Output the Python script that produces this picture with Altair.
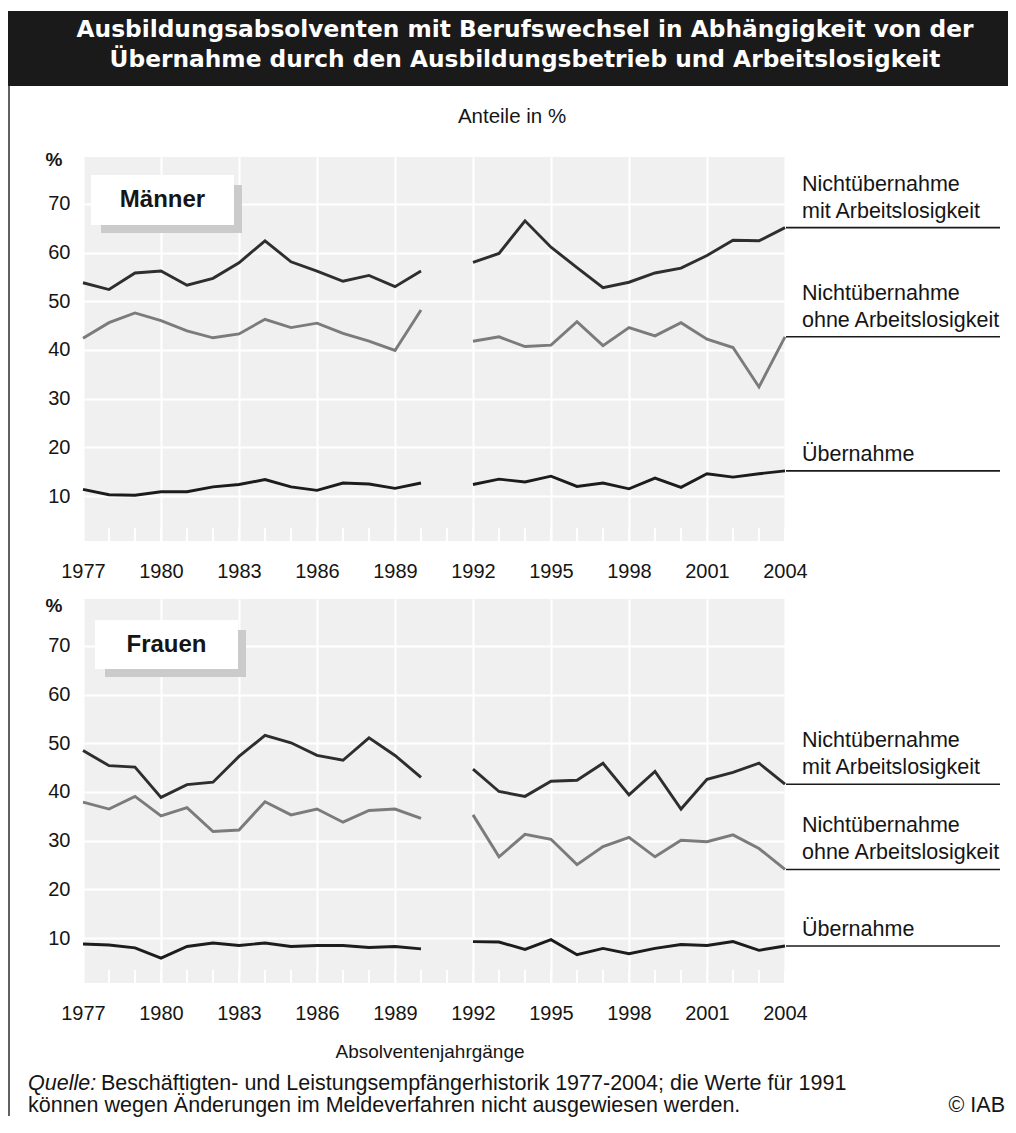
import altair as alt
import pandas as pd

# ---------------- data ----------------
YEARS_A = list(range(1977, 1991))   # 1977-1990
YEARS_B = list(range(1992, 2005))   # 1992-2004 (1991 not reported)

SERIES = [
    "Nichtübernahme mit Arbeitslosigkeit",
    "Nichtübernahme ohne Arbeitslosigkeit",
    "Übernahme",
]
LABEL_TOP = ["Nichtübernahme", "Nichtübernahme"]
LABEL_BOTTOM = ["mit Arbeitslosigkeit", "ohne Arbeitslosigkeit", "Übernahme"]

# Männer
m_mit_a = [53.8, 52.4, 55.8, 56.2, 53.3, 54.7, 57.9, 62.4, 58.1, 56.2, 54.1, 55.3, 53.0, 56.2]
m_mit_b = [58.0, 59.8, 66.5, 61.1, 56.9, 52.8, 53.9, 55.8, 56.8, 59.4, 62.5, 62.4, 65.1]
m_ohne_a = [42.4, 45.6, 47.6, 46.0, 43.9, 42.5, 43.3, 46.3, 44.6, 45.5, 43.4, 41.8, 39.9, 48.2]
m_ohne_b = [41.8, 42.7, 40.7, 41.0, 45.8, 40.9, 44.6, 42.9, 45.6, 42.2, 40.5, 32.4, 42.7]
m_ueb_a = [11.4, 10.3, 10.2, 10.9, 10.9, 11.9, 12.4, 13.4, 11.9, 11.2, 12.7, 12.5, 11.6, 12.7]
m_ueb_b = [12.4, 13.5, 12.9, 14.1, 12.0, 12.7, 11.5, 13.7, 11.8, 14.6, 13.9, 14.6, 15.2]

# Frauen
f_mit_a = [48.5, 45.4, 45.1, 38.9, 41.5, 42.0, 47.3, 51.6, 50.1, 47.5, 46.5, 51.1, 47.5, 43.0]
f_mit_b = [44.7, 40.1, 39.1, 42.2, 42.4, 45.9, 39.4, 44.2, 36.5, 42.6, 44.0, 45.9, 41.6]
f_ohne_a = [37.9, 36.5, 39.1, 35.1, 36.8, 31.9, 32.2, 38.0, 35.3, 36.5, 33.8, 36.2, 36.5, 34.6]
f_ohne_b = [35.3, 26.7, 31.3, 30.3, 25.1, 28.8, 30.7, 26.7, 30.1, 29.8, 31.2, 28.4, 24.1]
f_ueb_a = [8.8, 8.6, 8.0, 5.9, 8.3, 9.0, 8.5, 9.0, 8.3, 8.5, 8.5, 8.1, 8.3, 7.8]
f_ueb_b = [9.3, 9.2, 7.7, 9.7, 6.6, 7.9, 6.8, 7.9, 8.7, 8.5, 9.3, 7.5, 8.4]

X_TICKS = [1977, 1980, 1983, 1986, 1989, 1992, 1995, 1998, 2001, 2004]
Y_TICKS = [10, 20, 30, 40, 50, 60, 70]
ALL_YEARS = list(range(1977, 2005))

TITLE_1 = "Ausbildungsabsolventen mit Berufswechsel in Abhängigkeit von der"
TITLE_2 = "Übernahme durch den Ausbildungsbetrieb und Arbeitslosigkeit"
SUBTITLE = "Anteile in %"
X_TITLE = "Absolventenjahrgänge"
SOURCE_1 = "Beschäftigten- und Leistungsempfängerhistorik 1977-2004; die Werte für 1991"
SOURCE_2 = "können wegen Änderungen im Meldeverfahren nicht ausgewiesen werden."

# ---------------- styling ----------------
W, H = 702, 384
FONT = "Liberation Sans"
TXT = "#151515"
COLORS = ["#2e2e2e", "#7b7b7b", "#1c1c1c"]


def long_df(mit_a, mit_b, ohne_a, ohne_b, ueb_a, ueb_b):
    rows = []
    for s, a, b in zip(SERIES, [mit_a, ohne_a, ueb_a], [mit_b, ohne_b, ueb_b]):
        for y, v in zip(YEARS_A, a):
            rows.append({"year": y, "value": v, "series": s, "seg": "a"})
        for y, v in zip(YEARS_B, b):
            rows.append({"year": y, "value": v, "series": s, "seg": "b"})
    return pd.DataFrame(rows)


one = pd.DataFrame({"k": [0]})


def panel(df, last_vals, name, box, pct_y):
    xs = alt.Scale(domain=[1977, 2004], nice=False, zero=False)
    ys = alt.Scale(domain=[0.8, 79.6], nice=False, zero=False)
    x_axis = alt.Axis(values=X_TICKS, format="d", grid=True, gridColor="white", gridWidth=2,
                      ticks=False, tickSize=0, domain=False, labelFont=FONT, labelFontSize=20,
                      labelColor=TXT, labelPadding=20, labelFlush=False, labelOverlap=False,
                      title=None)
    y_axis = alt.Axis(values=Y_TICKS, grid=True, gridColor="white", gridWidth=2,
                      ticks=False, tickSize=0, domain=False, labelFont=FONT, labelFontSize=20,
                      labelColor=TXT, labelPadding=13, title=None)

    ticks = alt.Chart(pd.DataFrame({"year": ALL_YEARS})).mark_rule(
        color="white", strokeWidth=2).encode(
        x=alt.X("year:Q", scale=xs, axis=x_axis),
        y=alt.value(H - 13), y2=alt.value(H))

    lines = alt.Chart(df).mark_line(strokeWidth=2.9, strokeJoin="miter").encode(
        x=alt.X("year:Q", scale=xs, axis=x_axis),
        y=alt.Y("value:Q", scale=ys, axis=y_axis),
        color=alt.Color("series:N", scale=alt.Scale(domain=SERIES, range=COLORS), legend=None),
        detail="seg:N",
    )

    lead_df = pd.DataFrame({"value": last_vals, "label": LABEL_BOTTOM})
    top_df = pd.DataFrame({"value": last_vals[:2], "label": LABEL_TOP})
    leaders = alt.Chart(lead_df).mark_rule(color="#1a1a1a", strokeWidth=1.6).encode(
        y=alt.Y("value:Q", scale=ys), x=alt.value(W + 1), x2=alt.value(W + 215))
    labels_b = alt.Chart(lead_df).mark_text(
        align="left", baseline="bottom", dy=-5, font=FONT, fontSize=21.5, color=TXT).encode(
        y=alt.Y("value:Q", scale=ys), x=alt.value(W + 17), text="label:N")
    labels_t = alt.Chart(top_df).mark_text(
        align="left", baseline="bottom", dy=-32, font=FONT, fontSize=21.5, color=TXT).encode(
        y=alt.Y("value:Q", scale=ys), x=alt.value(W + 17), text="label:N")

    bx0, by0, bx1, by1 = box
    shadow = alt.Chart(one).mark_rect(color="#cbcbcb").encode(
        x=alt.value(bx0 + 10), x2=alt.value(bx1 + 8), y=alt.value(by0 + 10), y2=alt.value(by1 + 8))
    white = alt.Chart(one).mark_rect(color="white").encode(
        x=alt.value(bx0), x2=alt.value(bx1), y=alt.value(by0), y2=alt.value(by1))
    boxtxt = alt.Chart(one).mark_text(
        font=FONT, fontSize=24, fontWeight="bold", color=TXT, align="center", baseline="middle").encode(
        x=alt.value((bx0 + bx1) / 2), y=alt.value((by0 + by1) / 2), text=alt.value(name))
    pct = alt.Chart(one).mark_text(
        font=FONT, fontSize=19, fontWeight="bold", color=TXT, align="center", baseline="middle").encode(
        x=alt.value(-29), y=alt.value(pct_y), text=alt.value("%"))

    return [ticks, lines, leaders, labels_b, labels_t, shadow, white, boxtxt, pct]


men_df = long_df(m_mit_a, m_mit_b, m_ohne_a, m_ohne_b, m_ueb_a, m_ueb_b)
wom_df = long_df(f_mit_a, f_mit_b, f_ohne_a, f_ohne_b, f_ueb_a, f_ueb_b)

men_layers = panel(men_df, [m_mit_b[-1], m_ohne_b[-1], m_ueb_b[-1]], "Männer",
                   (8, 18, 151, 68), 3)
wom_layers = panel(wom_df, [f_mit_b[-1], f_ohne_b[-1], f_ueb_b[-1]], "Frauen",
                   (12, 21, 155, 70), 7)

# header decorations (top panel, pixel offsets relative to its plot area)
bar = alt.Chart(one).mark_rect(color="#1a1a1a").encode(
    x=alt.value(-75), x2=alt.value(925), y=alt.value(-146), y2=alt.value(-71))
t1 = alt.Chart(one).mark_text(font="DejaVu Sans", fontSize=23.3, fontWeight="bold", color="white",
                              align="center", baseline="middle").encode(
    x=alt.value(442), y=alt.value(-127), text=alt.value(TITLE_1))
t2 = alt.Chart(one).mark_text(font="DejaVu Sans", fontSize=23.3, fontWeight="bold", color="white",
                              align="center", baseline="middle").encode(
    x=alt.value(442), y=alt.value(-97), text=alt.value(TITLE_2))
sub = alt.Chart(one).mark_text(font=FONT, fontSize=20.5, color=TXT, align="center",
                               baseline="middle").encode(
    x=alt.value(429), y=alt.value(-40), text=alt.value(SUBTITLE))
border = alt.Chart(one).mark_rule(color="#3a3a3a", strokeWidth=1.6).encode(
    x=alt.value(-74), y=alt.value(-71), y2=alt.value(959))

# footer decorations (bottom panel)
xt = alt.Chart(one).mark_text(font=FONT, fontSize=19, color=TXT, align="center",
                              baseline="middle").encode(
    x=alt.value(347), y=alt.value(453), text=alt.value(X_TITLE))
q1 = alt.Chart(one).mark_text(font=FONT, fontSize=21.5, fontStyle="italic", color=TXT,
                              align="left", baseline="middle").encode(
    x=alt.value(-55), y=alt.value(485), text=alt.value("Quelle:"))
q2 = alt.Chart(one).mark_text(font=FONT, fontSize=21.5, color=TXT, align="left",
                              baseline="middle").encode(
    x=alt.value(18), y=alt.value(485), text=alt.value(SOURCE_1))
q3 = alt.Chart(one).mark_text(font=FONT, fontSize=21.5, color=TXT, align="left",
                              baseline="middle").encode(
    x=alt.value(-55), y=alt.value(507), text=alt.value(SOURCE_2))
iab = alt.Chart(one).mark_text(font=FONT, fontSize=21.5, color=TXT, align="right",
                               baseline="middle").encode(
    x=alt.value(922), y=alt.value(507), text=alt.value("© IAB"))

top = alt.layer(bar, t1, t2, sub, border, *men_layers).properties(width=W, height=H)
bottom = alt.layer(*wom_layers, xt, q1, q2, q3, iab).properties(width=W, height=H)

chart = alt.vconcat(top, bottom, spacing=58, bounds="flush",
                    padding={"top": 3, "left": 0, "right": 0, "bottom": 0}).configure_view(
    fill="#f0f0f0", stroke=None)

chart.save("out.html", embed_options={"renderer": "svg", "actions": False})
